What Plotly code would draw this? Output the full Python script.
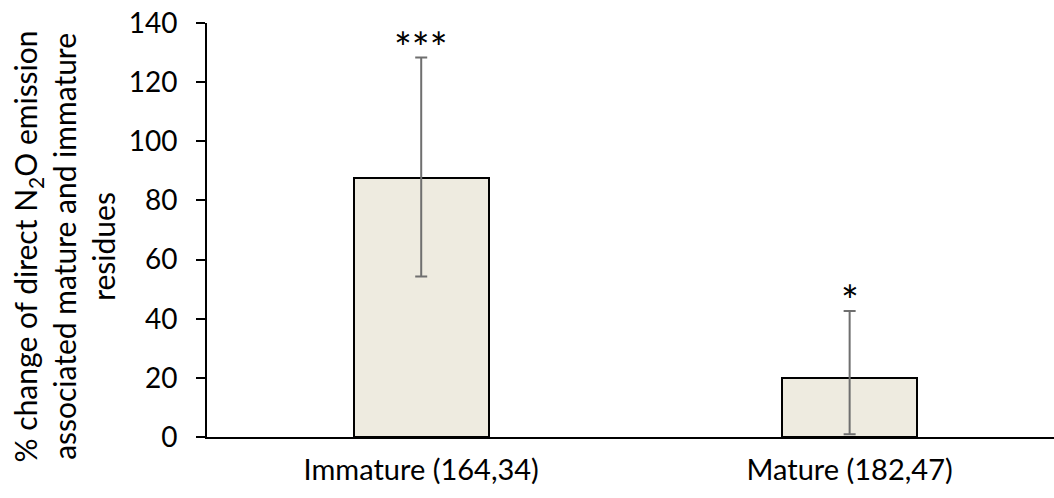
import plotly.graph_objects as go

categories = ["Immature (164,34)", "Mature (182,47)"]
values = [87.6, 20.0]
err_upper = [128.3, 42.6]
err_lower = [54.3, 0.9]
significance = ["***", "*"]
y_ticks = [0, 20, 40, 60, 80, 100, 120, 140]

xpos = list(range(len(categories)))
plus = [u - v for u, v in zip(err_upper, values)]
minus = [v - l for v, l in zip(values, err_lower)]

FONT = "Lato"
fig = go.Figure()
fig.add_trace(go.Bar(
    x=xpos, y=values, width=0.315,
    marker=dict(color="#EEEBE0", line=dict(color="black", width=2)),
    error_y=dict(type="data", symmetric=False, array=plus, arrayminus=minus,
                 color="#6f6f6f", thickness=2, width=6),
    showlegend=False,
))

for x, u, s in zip(xpos, err_upper, significance):
    fig.add_annotation(x=x, y=u, text=s, showarrow=False, yanchor="bottom",
                       yshift=-16, font=dict(family=FONT, size=42, color="black"))

fig.add_annotation(
    xref="paper", yref="paper", x=-0.169, y=0.46, xanchor="center", yanchor="middle",
    textangle=-90, showarrow=False, align="center",
    text="% change of direct N<sub>2</sub>O emission<br>associated mature and immature<br>residues",
    font=dict(family=FONT, size=30, color="black"),
)

fig.update_layout(
    width=1054, height=498,
    margin=dict(l=207, r=0, t=23, b=61),
    paper_bgcolor="white", plot_bgcolor="white",
    font=dict(family=FONT, size=28, color="black"),
    bargap=0,
)
fig.update_xaxes(
    range=[-0.5, 1.477], tickvals=xpos, ticktext=categories,
    showline=True, linecolor="black", linewidth=2, ticks="", showgrid=False,
    zeroline=False, tickfont=dict(family=FONT, size=29), ticklabelstandoff=6,
)
fig.update_yaxes(
    range=[0, 140], tickvals=y_ticks, showline=True, linecolor="black", linewidth=2,
    ticks="outside", ticklen=9, tickwidth=2, tickcolor="black", showgrid=False,
    zeroline=False, tickfont=dict(family=FONT, size=28), ticklabelstandoff=13,
)

fig.write_html("out.html", config={"displayModeBar": False},
               post_script="document.body.style.margin='0';document.body.style.overflow='hidden';")
